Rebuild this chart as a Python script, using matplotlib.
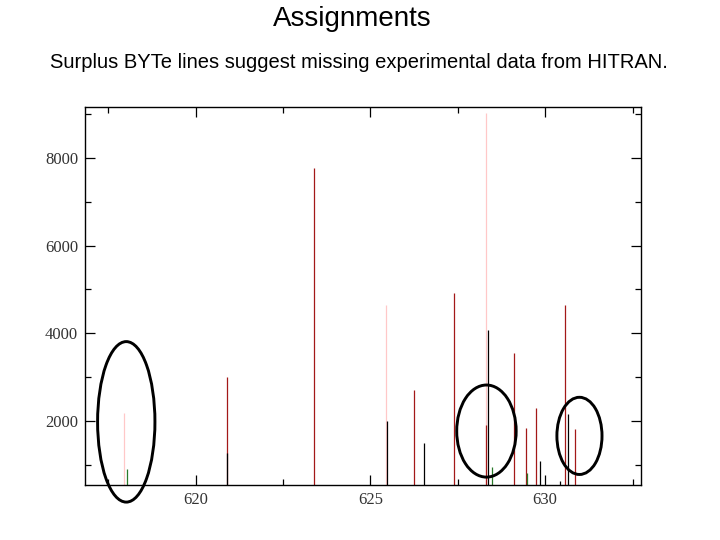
import matplotlib
matplotlib.use("Agg")
import matplotlib.pyplot as plt
from matplotlib.patches import Ellipse
from matplotlib.ticker import MultipleLocator

# ---------- data (wavenumber, intensity) ------------------------------------
pink_x = [617.96, 625.44, 628.31]
pink_y = [2180, 4640, 9030]

red_x = [620.91, 623.40, 626.25, 627.40, 628.31, 629.12, 629.46, 629.75, 630.56, 630.85]
red_y = [3000, 7770, 2710, 4920, 1910, 3550, 1840, 2300, 4640, 1820]

black_x = [620.91, 625.49, 626.54, 628.37, 629.85, 630.41, 630.66]
black_y = [1270, 2010, 1490, 4070, 1090, 620, 2160]

green_x = [618.05, 628.49, 629.49]
green_y = [900, 950, 820]

# circled regions: (centre x, centre y, width, height) in data units
circles = [(618.02, 1980, 1.64, 3660),
           (628.32, 1770, 1.70, 2100),
           (630.98, 1660, 1.29, 1760)]

XMIN, XMAX = 616.84, 632.74
YMIN, YMAX = 540, 9160

# ---------- figure -----------------------------------------------------------
fig = plt.figure(figsize=(7.2, 5.4), dpi=100)
ax = fig.add_axes([85 / 720, 55 / 540, 556 / 720, 378 / 540])

ax.vlines(pink_x, YMIN, pink_y, color="#ffc8c8", lw=0.9)
ax.vlines(red_x, YMIN, red_y, color="#a31818", lw=0.9)
ax.vlines(black_x, YMIN, black_y, color="black", lw=0.9)
ax.vlines(green_x, YMIN, green_y, color="#2a7a2a", lw=0.9)

for cx, cy, w, h in circles:
    ax.add_patch(Ellipse((cx, cy), w, h, fill=False, ec="black", lw=2.1,
                         clip_on=False, zorder=5))

ax.set_xlim(XMIN, XMAX)
ax.set_ylim(YMIN, YMAX)
ax.xaxis.set_major_locator(MultipleLocator(5))
ax.xaxis.set_minor_locator(MultipleLocator(2.5))
ax.yaxis.set_major_locator(MultipleLocator(2000))
ax.yaxis.set_minor_locator(MultipleLocator(1000))
ax.tick_params(which="both", direction="in", top=True, right=True,
               labelsize=12, labelcolor="#333333", pad=5)
ax.tick_params(which="major", length=7.5, width=0.9)
ax.tick_params(which="minor", length=4.5, width=0.9)
for lab in ax.get_xticklabels() + ax.get_yticklabels():
    lab.set_fontfamily("Liberation Serif")
for sp in ax.spines.values():
    sp.set_linewidth(1.0)

fig.text(0.489, 1 - 19 / 540, "Assignments", ha="center", va="center",
         fontsize=20, family="Liberation Sans")
fig.text(0.499, 1 - 63 / 540,
         "Surplus BYTe lines suggest missing experimental data from HITRAN.",
         ha="center", va="center", fontsize=14.5, family="Liberation Sans")

fig.savefig("out.png", dpi=100)
